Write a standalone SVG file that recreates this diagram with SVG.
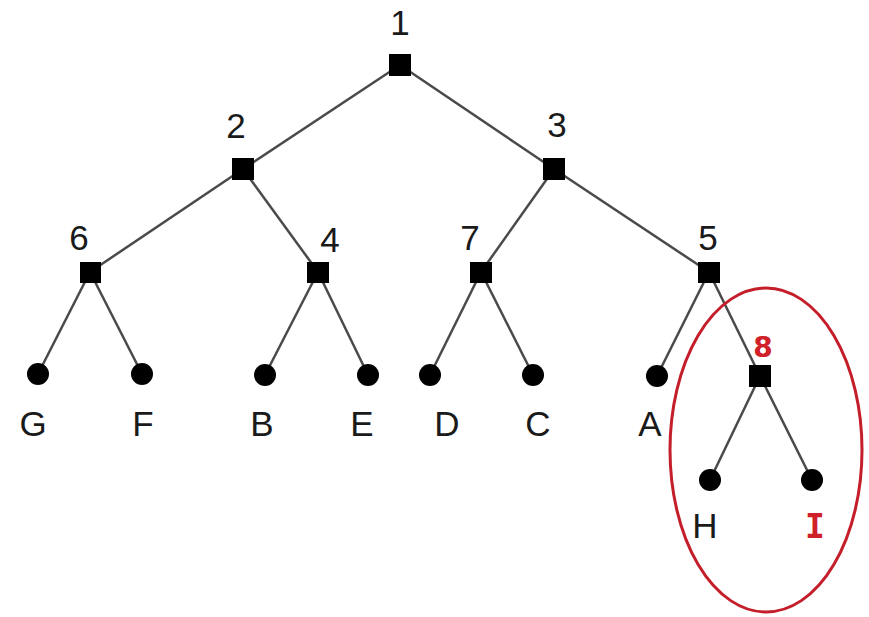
<svg xmlns="http://www.w3.org/2000/svg" width="869" height="617" viewBox="0 0 869 617">
  <style>
    .edge { stroke: #4a4a4a; stroke-width: 2.5; fill: none; }
    .inner { fill: #000; }
    .leaf { fill: #000; }
    .lbl { font-family: "Liberation Sans", Arial, sans-serif; font-size: 35px; fill: #1a1a1a; text-anchor: middle; }
    .hl { font-weight: bold; fill: #d0202a; text-anchor: middle; }
  </style>
  <rect width="869" height="617" fill="#fff"/>

  <g id="connectors">
    <line class="edge" x1="400" y1="65" x2="243" y2="169"/>
    <line class="edge" x1="400" y1="65" x2="554" y2="169"/>
    <line class="edge" x1="243" y1="169" x2="90" y2="272"/>
    <line class="edge" x1="243" y1="169" x2="318" y2="272"/>
    <line class="edge" x1="554" y1="169" x2="481" y2="272"/>
    <line class="edge" x1="554" y1="169" x2="709" y2="272"/>
    <line class="edge" x1="90" y1="272" x2="38" y2="374"/>
    <line class="edge" x1="90" y1="272" x2="142" y2="374"/>
    <line class="edge" x1="318" y1="272" x2="265" y2="375"/>
    <line class="edge" x1="318" y1="272" x2="368" y2="375"/>
    <line class="edge" x1="481" y1="272" x2="430" y2="375"/>
    <line class="edge" x1="481" y1="272" x2="533" y2="375"/>
    <line class="edge" x1="709" y1="272" x2="657" y2="376"/>
    <line class="edge" x1="709" y1="272" x2="760" y2="376"/>
    <line class="edge" x1="760" y1="376" x2="710" y2="480"/>
    <line class="edge" x1="760" y1="376" x2="812" y2="480"/>
  </g>

  <g id="n1"><rect class="inner" x="389" y="54" width="22" height="22"/><text class="lbl" x="400" y="35">1</text></g>
  <g id="n2"><rect class="inner" x="232" y="158" width="22" height="22"/><text class="lbl" x="236" y="138">2</text></g>
  <g id="n3"><rect class="inner" x="543" y="158" width="22" height="22"/><text class="lbl" x="557" y="137">3</text></g>
  <g id="n6"><rect class="inner" x="80" y="262" width="21" height="21"/><text class="lbl" x="79" y="250">6</text></g>
  <g id="n4"><rect class="inner" x="307" y="262" width="22" height="21"/><text class="lbl" x="330" y="252">4</text></g>
  <g id="n7"><rect class="inner" x="470" y="262" width="22" height="21"/><text class="lbl" x="470" y="250">7</text></g>
  <g id="n5"><rect class="inner" x="698" y="262" width="22" height="21"/><text class="lbl" x="708" y="250">5</text></g>
  <g id="n8"><rect class="inner" x="749" y="365" width="22" height="22"/><text class="hl" x="763" y="357" font-size="28" font-family="'DejaVu Sans', Verdana, sans-serif">8</text></g>

  <g id="G"><circle class="leaf" cx="38" cy="374" r="11"/><text class="lbl" x="33" y="436">G</text></g>
  <g id="F"><circle class="leaf" cx="142" cy="374" r="11"/><text class="lbl" x="143" y="436">F</text></g>
  <g id="B"><circle class="leaf" cx="265" cy="375" r="11"/><text class="lbl" x="262" y="436">B</text></g>
  <g id="E"><circle class="leaf" cx="368" cy="375" r="11"/><text class="lbl" x="362" y="436">E</text></g>
  <g id="D"><circle class="leaf" cx="430" cy="375" r="11"/><text class="lbl" x="447" y="436">D</text></g>
  <g id="C"><circle class="leaf" cx="533" cy="375" r="11"/><text class="lbl" x="538" y="436">C</text></g>
  <g id="A"><circle class="leaf" cx="657" cy="376" r="11"/><text class="lbl" x="650" y="436">A</text></g>
  <g id="H"><circle class="leaf" cx="710" cy="480" r="11"/><text class="lbl" x="705" y="538">H</text></g>
  <g id="I"><circle class="leaf" cx="812" cy="480" r="11"/><text class="hl" x="815" y="538" font-size="33" font-family="'DejaVu Sans Mono', monospace">I</text></g>

  <g id="highlight">
    <ellipse cx="766" cy="450" rx="96" ry="162" fill="none" stroke="#c41e2a" stroke-width="3"/>
  </g>
</svg>
